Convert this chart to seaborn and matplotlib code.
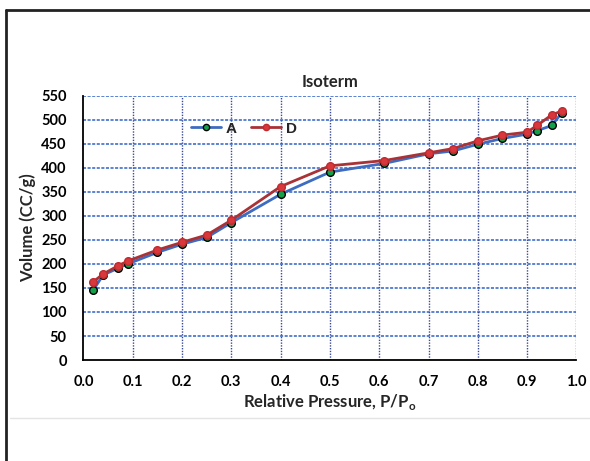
import numpy as np
import pandas as pd
import matplotlib
matplotlib.use("Agg")
import matplotlib.pyplot as plt
from matplotlib.lines import Line2D
import seaborn as sns

# Relative pressure (P/Po) and adsorbed volume (CC/g)
p_a = [0.02, 0.04, 0.07, 0.09, 0.15, 0.20, 0.25, 0.30, 0.40, 0.50,
       0.61, 0.70, 0.75, 0.80, 0.85, 0.90, 0.92, 0.95, 0.97]
vol_a = [146, 177, 191, 200, 224, 241, 255, 286, 345, 391,
         409, 429, 435, 449, 461, 470, 477, 488, 514]
p_d = [0.02, 0.04, 0.07, 0.09, 0.15, 0.20, 0.25, 0.30, 0.40, 0.50,
       0.61, 0.70, 0.75, 0.80, 0.85, 0.90, 0.92, 0.95, 0.97]
vol_d = [163, 179, 196, 206, 229, 245, 260, 291, 361, 404,
         415, 431, 440, 456, 468, 474, 488, 510, 518]

x_ticks = np.round(np.arange(0, 1.01, 0.1), 1)
y_ticks = list(range(0, 551, 50))

sns.set_style("white")
plt.rcParams["font.family"] = ["Lato", "DejaVu Sans"]

fig = plt.figure(figsize=(5.9, 4.61), dpi=100)
ax = fig.add_axes([0.1415, 0.219, 0.8355, 0.5735])

df_a = pd.DataFrame({"p": p_a, "v": vol_a})
df_d = pd.DataFrame({"p": p_d, "v": vol_d})

sns.lineplot(data=df_a, x="p", y="v", ax=ax, sort=False, estimator=None,
             color="#3d6cc0", linewidth=2, marker="o", markersize=5.5,
             markerfacecolor="#14a04a", markeredgecolor="black",
             markeredgewidth=1, label="A", zorder=3)
sns.lineplot(data=df_d, x="p", y="v", ax=ax, sort=False, estimator=None,
             color="#a83236", linewidth=2, marker="o", markersize=5.5,
             markerfacecolor="#d8383c", markeredgecolor="#c02a2e",
             markeredgewidth=1, label="D", zorder=4)

ax.set_xlim(0, 1.0)
ax.set_ylim(0, 550)
ax.set_xticks(x_ticks)
ax.set_xticklabels([f"{t:.1f}" for t in x_ticks])
ax.set_yticks(y_ticks)

# gridlines: dotted blue horizontals, dotted navy verticals
ax.grid(False)
for y in y_ticks[1:]:
    ax.axhline(y, color="#2f62c8", linestyle=(0, (2, 1)), linewidth=1.1, zorder=1)
for x in x_ticks[1:]:
    ax.axvline(x, color="#3a4a96", linestyle=(0, (1, 1)), linewidth=1.0, zorder=1)

for side in ["top", "right"]:
    ax.spines[side].set_visible(False)
for side in ["left", "bottom"]:
    ax.spines[side].set_color("black")
    ax.spines[side].set_linewidth(1.3)

ax.tick_params(axis="x", direction="out", length=4, width=1.2,
               colors="black", labelsize=10.5, pad=7)
ax.tick_params(axis="y", length=0, colors="black", labelsize=10.5, pad=12)
for lab in ax.get_xticklabels() + ax.get_yticklabels():
    lab.set_fontweight("bold")

ax.set_title("Isoterm", fontsize=12, fontweight="bold", pad=6)
ax.set_xlabel("Relative Pressure, P/P$_\\mathregular{o}$", fontsize=12,
              fontweight="bold", labelpad=2)
ax.set_ylabel("Volume (CC/g)", fontsize=12, fontweight="bold", labelpad=4)

leg = ax.legend(loc="upper left", bbox_to_anchor=(0.205, 0.925), ncol=2,
                frameon=False, handlelength=2.0, columnspacing=0.9,
                handletextpad=0.3, borderaxespad=0,
                prop={"family": "Liberation Sans", "weight": "bold", "size": 11})
for h in leg.legend_handles:
    h.set_markersize(4.5)

# outer frame of the original figure
fig.add_artist(Line2D([6 / 590, 1], [1 - 10 / 461, 1 - 10 / 461],
                      transform=fig.transFigure, color="#222222", linewidth=2))
fig.add_artist(Line2D([6 / 590, 6 / 590], [0, 1 - 10 / 461],
                      transform=fig.transFigure, color="#222222", linewidth=2))
fig.add_artist(Line2D([10 / 590, 1], [1 - 418 / 461, 1 - 418 / 461],
                      transform=fig.transFigure, color="#e4e4e4", linewidth=1))

fig.savefig("out.png", dpi=100)
